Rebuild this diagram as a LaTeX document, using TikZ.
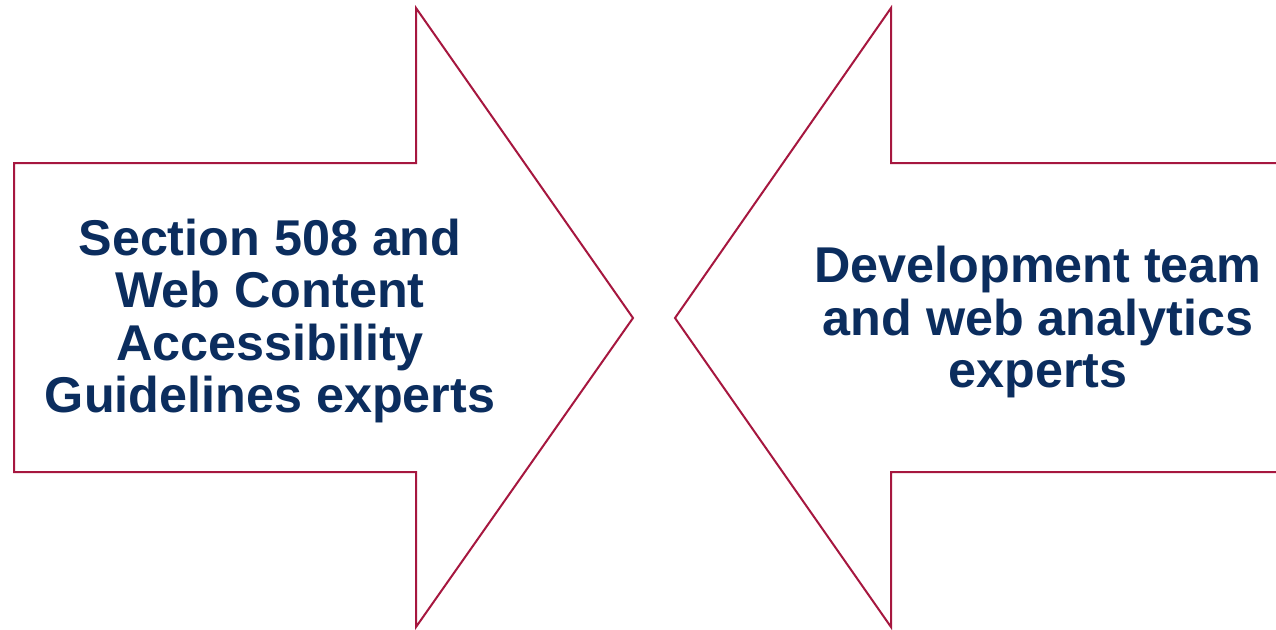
\documentclass[tikz,border=0pt]{standalone}
\usepackage{fontspec}
\setmainfont{Liberation Sans}
\definecolor{arrowred}{HTML}{A6173F}
\definecolor{textnavy}{HTML}{0B2D5E}
\begin{document}
\begin{tikzpicture}[x=1pt,y=-1pt,
  arrowshape/.style={draw=arrowred,line width=2pt,line join=miter,fill=white},
  label/.style={text=textnavy,font=\fontsize{50.3}{52.5}\selectfont\bfseries,align=center}]
\useasboundingbox (0,0) rectangle (1276,629);
\draw[arrowshape] (14,163) -- (416,163) -- (416,8) -- (633,318) -- (416,627) -- (416,472) -- (14,472) -- cycle;
\draw[arrowshape] (1280,163) -- (891,163) -- (891,8) -- (675,318) -- (891,627) -- (891,472) -- (1280,472);
\node[label] (left) at (270,321) {Section 508 and\\Web Content\\Accessibility\\Guidelines experts};
\node[label] (right) at (1038,322) {Development team\\and web analytics\\experts};
\end{tikzpicture}
\end{document}
